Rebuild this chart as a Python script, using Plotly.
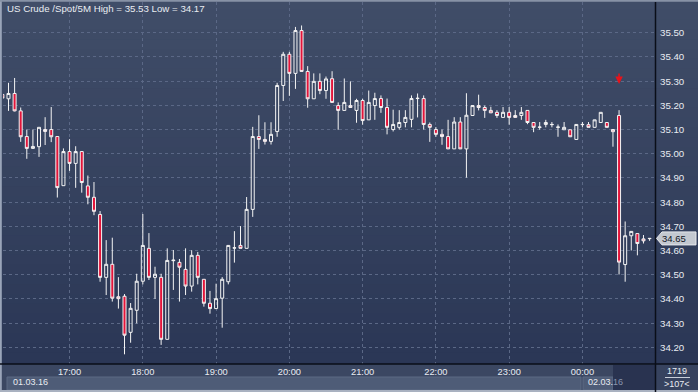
import plotly.graph_objects as go
import pandas as pd

# ---------------- data ----------------
start_time = "2016-03-01 16:05"
bar_minutes = 5
opens = [35.245, 35.227, 35.249, 35.177, 35.071, 35.022, 35.029, 35.100, 35.100, 35.071, 34.868,
         35.009, 34.960, 35.009, 34.867, 34.820, 34.749, 34.489, 34.543, 34.409, 34.411, 34.262, 34.353,
         34.473, 34.609, 34.489, 34.489, 34.233, 34.558, 34.551, 34.522, 34.453, 34.580, 34.481, 34.382,
         34.360, 34.403, 34.471, 34.610, 34.621, 34.609, 34.770, 35.071, 35.059, 35.051, 35.092, 35.282,
         35.411, 35.332, 35.509, 35.340, 35.227, 35.299, 35.261, 35.310, 35.199, 35.179, 35.199, 35.179,
         35.220, 35.140, 35.199, 35.228, 35.191, 35.100, 35.109, 35.129, 35.142, 35.228, 35.228, 35.121,
         35.100, 35.080, 35.071, 35.020, 35.131, 35.020, 35.158, 35.199, 35.191, 35.179, 35.171, 35.150,
         35.171, 35.158, 35.158, 35.179, 35.129, 35.109, 35.121, 35.120, 35.109, 35.099, 35.099, 35.059,
         35.120, 35.120, 35.109, 35.129, 35.129, 35.100, 35.158, 34.542, 34.661, 34.670, 34.648, 34.649]
highs = [35.250, 35.293, 35.313, 35.191, 35.100, 35.100, 35.109, 35.151, 35.193, 35.071, 35.022,
         35.060, 35.031, 35.009, 34.910, 34.883, 34.763, 34.643, 34.653, 34.490, 34.420, 34.383, 34.504,
         34.751, 34.672, 34.533, 34.504, 34.609, 34.602, 34.565, 34.609, 34.601, 34.594, 34.481, 34.433,
         34.463, 34.490, 34.621, 34.680, 34.701, 34.821, 35.111, 35.159, 35.130, 35.130, 35.293, 35.421,
         35.421, 35.524, 35.530, 35.362, 35.332, 35.332, 35.319, 35.341, 35.212, 35.311, 35.299, 35.227,
         35.227, 35.261, 35.252, 35.241, 35.228, 35.182, 35.180, 35.180, 35.241, 35.249, 35.241, 35.129,
         35.110, 35.100, 35.140, 35.151, 35.151, 35.250, 35.200, 35.244, 35.199, 35.194, 35.180, 35.193,
         35.193, 35.180, 35.193, 35.179, 35.129, 35.131, 35.140, 35.131, 35.121, 35.131, 35.099, 35.121,
         35.131, 35.131, 35.140, 35.171, 35.129, 35.100, 35.180, 34.720, 34.679, 34.670, 34.664, 34.650]
lows = [35.225, 35.177, 35.175, 35.049, 34.979, 35.020, 34.987, 35.036, 35.048, 34.819, 34.868,
        34.929, 34.859, 34.839, 34.791, 34.746, 34.471, 34.416, 34.389, 34.360, 34.171, 34.219, 34.299,
        34.460, 34.478, 34.400, 34.210, 34.233, 34.437, 34.389, 34.416, 34.430, 34.460, 34.368, 34.339,
        34.360, 34.281, 34.460, 34.550, 34.609, 34.609, 34.739, 35.020, 35.038, 35.038, 35.070, 35.218,
        35.239, 35.268, 35.340, 35.190, 35.227, 35.246, 35.227, 35.212, 35.099, 35.179, 35.191, 35.128,
        35.120, 35.140, 35.140, 35.169, 35.080, 35.092, 35.100, 35.109, 35.109, 35.150, 35.100, 35.049,
        35.070, 35.037, 35.020, 35.020, 35.020, 34.901, 35.158, 35.179, 35.148, 35.169, 35.148, 35.150,
        35.120, 35.150, 35.140, 35.122, 35.089, 35.099, 35.109, 35.109, 35.070, 35.099, 35.070, 35.059,
        35.109, 35.109, 35.109, 35.129, 35.109, 35.029, 34.501, 34.471, 34.600, 34.580, 34.629, 34.640]
closes = [35.230, 35.249, 35.177, 35.070, 35.022, 35.030, 35.109, 35.092, 35.070, 34.860, 35.009,
          34.960, 35.009, 34.881, 34.820, 34.762, 34.489, 34.543, 34.403, 34.401, 34.250, 34.361, 34.473,
          34.621, 34.489, 34.502, 34.233, 34.559, 34.560, 34.531, 34.453, 34.580, 34.489, 34.382, 34.360,
          34.401, 34.481, 34.621, 34.611, 34.609, 34.770, 35.071, 35.059, 35.051, 35.080, 35.282, 35.411,
          35.332, 35.509, 35.340, 35.227, 35.299, 35.261, 35.309, 35.212, 35.179, 35.212, 35.191, 35.220,
          35.137, 35.212, 35.228, 35.191, 35.109, 35.121, 35.129, 35.150, 35.228, 35.229, 35.121, 35.109,
          35.080, 35.071, 35.020, 35.131, 35.020, 35.159, 35.199, 35.191, 35.179, 35.169, 35.158, 35.171,
          35.150, 35.150, 35.171, 35.129, 35.109, 35.110, 35.129, 35.121, 35.110, 35.109, 35.070, 35.121,
          35.121, 35.109, 35.140, 35.171, 35.109, 35.091, 34.552, 34.661, 34.679, 34.629, 34.640, 34.650]

title_text = "US Crude /Spot/5M High = 35.53 Low = 34.17"
last_price = 34.65
signal_time = "2016-03-02 00:30"
signal_price = 35.288
date_labels = ["01.03.16", "02.03.16"]
bar_count_labels = ["1719", ">107<"]
hour_ticks = ["2016-03-01 17:00", "2016-03-01 18:00", "2016-03-01 19:00", "2016-03-01 20:00",
              "2016-03-01 21:00", "2016-03-01 22:00", "2016-03-01 23:00", "2016-03-02 00:00"]
hour_labels = ["17:00", "18:00", "19:00", "20:00", "21:00", "22:00", "23:00", "00:00"]
price_ticks = [34.2, 34.3, 34.4, 34.5, 34.6, 34.7, 34.8, 34.9, 35.0, 35.1, 35.2, 35.3, 35.4, 35.5]

times = pd.date_range(start_time, periods=len(opens), freq=f"{bar_minutes}min")

# ---------------- geometry helpers (styling only) ----------------
W, H = 698, 392
ML, MR, MT, MB = 3, 42, 2, 28
PW, PH = W - ML - MR, H - MT - MB
Y_RANGE = [34.131, 35.627]


def px(xp):
    return (xp - ML) / PW


def py(yp):
    return (H - MB - yp) / PH


FONT = "Liberation Sans, Arial, sans-serif"
TXT = "#e9ecf2"

fig = go.Figure()
fig.add_trace(go.Candlestick(
    x=times, open=opens, high=highs, low=lows, close=closes,
    increasing=dict(line=dict(color="#f4f4f4", width=1), fillcolor="rgba(0,0,0,0)"),
    decreasing=dict(line=dict(color="#f4f4f4", width=1), fillcolor="#e3143a"),
    whiskerwidth=0, hoverinfo="skip", showlegend=False,
))

shapes = []
# vertical gradient background
n = 40
top_c = (64, 77, 104)
bot_c = (41, 53, 84)
for i in range(n):
    t = i / (n - 1)
    c = tuple(round(top_c[k] + (bot_c[k] - top_c[k]) * t) for k in range(3))
    y0 = H * i / n
    y1 = H * (i + 1) / n + 0.6
    shapes.append(dict(type="rect", xref="paper", yref="paper", layer="below",
                       x0=px(-2), x1=px(W + 2), y0=py(y1), y1=py(y0),
                       line=dict(width=0), fillcolor=f"rgb{c}"))
# bottom time band
shapes.append(dict(type="rect", xref="paper", yref="paper", layer="below",
                   x0=px(-2), x1=px(656), y0=py(H + 2), y1=py(364),
                   line=dict(width=0), fillcolor="rgb(59,71,98)"))
# date strips
shapes.append(dict(type="rect", xref="paper", yref="paper", layer="below",
                   x0=px(7), x1=px(581), y0=py(390), y1=py(377),
                   line=dict(width=1, color="rgb(92,106,132)"), fillcolor="rgb(78,92,119)"))
shapes.append(dict(type="rect", xref="paper", yref="paper", layer="below",
                   x0=px(583), x1=px(613), y0=py(390), y1=py(377),
                   line=dict(width=1, color="rgb(92,106,132)"), fillcolor="rgb(78,92,119)"))
# dark scroll box
shapes.append(dict(type="rect", xref="paper", yref="paper", layer="below",
                   x0=px(613), x1=px(655), y0=py(391), y1=py(365),
                   line=dict(width=0), fillcolor="rgb(41,51,80)"))
# right bottom cell
shapes.append(dict(type="rect", xref="paper", yref="paper", layer="below",
                   x0=px(656), x1=px(W + 2), y0=py(H + 2), y1=py(364),
                   line=dict(width=0), fillcolor="rgb(55,67,95)"))
shapes.append(dict(type="line", xref="paper", yref="paper", layer="above",
                   x0=px(665), x1=px(690), y0=py(377.5), y1=py(377.5),
                   line=dict(width=1, color="#c9cfda")))
# frame lines
shapes.append(dict(type="line", xref="paper", yref="paper", layer="above",
                   x0=px(0.8), x1=px(0.8), y0=py(H), y1=py(0),
                   line=dict(width=2, color="#9aa5b9")))
shapes.append(dict(type="line", xref="paper", yref="paper", layer="above",
                   x0=px(0), x1=px(W), y0=py(0.8), y1=py(0.8),
                   line=dict(width=2, color="#8792a6")))
shapes.append(dict(type="line", xref="paper", yref="paper", layer="above",
                   x0=px(0), x1=px(W), y0=py(391), y1=py(391),
                   line=dict(width=2, color="#a9b1c0")))
# axis separators
shapes.append(dict(type="line", xref="paper", yref="paper", layer="above",
                   x0=px(655.5), x1=px(655.5), y0=py(H), y1=py(2),
                   line=dict(width=1.5, color="#0a0e18")))
shapes.append(dict(type="line", xref="paper", yref="paper", layer="above",
                   x0=px(0), x1=px(W), y0=py(364), y1=py(364),
                   line=dict(width=1.5, color="#0a0e18")))
# last price tag (arrow-shaped box)
tag_h = 6.5 / (PH / (Y_RANGE[1] - Y_RANGE[0]))
x_tip, x_l, x_r = px(656.5), px(662), px(696)
shapes.append(dict(type="path", xref="paper", yref="y", layer="above",
                   path=f"M {x_tip} {last_price} L {x_l} {last_price + tag_h} L {x_r} {last_price + tag_h} "
                        f"L {x_r} {last_price - tag_h} L {x_l} {last_price - tag_h} Z",
                   line=dict(width=1, color="#e6e8ec"), fillcolor="#c3c8d0"))

annotations = [
    dict(text=title_text, xref="paper", yref="paper", x=px(5), y=py(8.5),
         xanchor="left", yanchor="middle", showarrow=False,
         font=dict(family=FONT, size=9.7, color=TXT)),
    dict(text=f"{last_price:.2f}", xref="paper", yref="y", x=px(660), y=last_price,
         xanchor="left", yanchor="middle", showarrow=False,
         font=dict(family=FONT, size=9.5, color="#10141f")),
    dict(text=date_labels[0], xref="paper", yref="paper", x=px(11), y=py(382),
         xanchor="left", yanchor="middle", showarrow=False,
         font=dict(family=FONT, size=9, color=TXT)),
    dict(text=date_labels[1][:-2] + "<span style='color:#8a96ad'>" + date_labels[1][-2:] + "</span>",
         xref="paper", yref="paper", x=px(586), y=py(382),
         xanchor="left", yanchor="middle", showarrow=False,
         font=dict(family=FONT, size=9, color=TXT)),
    dict(text=bar_count_labels[0], xref="paper", yref="paper", x=px(677), y=py(371),
         xanchor="center", yanchor="middle", showarrow=False,
         font=dict(family=FONT, size=9, color=TXT)),
    dict(text=bar_count_labels[1], xref="paper", yref="paper", x=px(677), y=py(384),
         xanchor="center", yanchor="middle", showarrow=False,
         font=dict(family=FONT, size=9, color=TXT)),
    # red signal arrow above the big drop bar
    dict(text="", x=signal_time, y=signal_price, xref="x", yref="y",
         showarrow=True, ax=0, ay=-12, arrowhead=2, arrowsize=1.0, arrowwidth=1.5,
         arrowcolor="#e8131b", standoff=0, startstandoff=0),
]

fig.update_layout(
    width=W, height=H,
    margin=dict(l=ML, r=MR, t=MT, b=MB, pad=0),
    paper_bgcolor="rgb(52,64,93)",
    plot_bgcolor="rgba(0,0,0,0)",
    shapes=shapes, annotations=annotations,
    showlegend=False, hovermode=False,
    font=dict(family=FONT, size=9, color=TXT),
    xaxis=dict(
        type="date",
        range=["2016-03-01 16:05:30", "2016-03-02 01:00:15"],
        rangeslider=dict(visible=False),
        tickmode="array", tickvals=hour_ticks, ticktext=hour_labels,
        showgrid=True, gridcolor="#5b6886", griddash="3px,3px", gridwidth=1,
        ticks="", showline=False, zeroline=False,
        tickfont=dict(family=FONT, size=9.3, color=TXT),
        ticklabelstandoff=1,
    ),
    yaxis=dict(
        side="right", range=Y_RANGE,
        tickmode="array", tickvals=price_ticks, ticktext=[f"{v:.2f}" for v in price_ticks],
        showgrid=True, gridcolor="#5b6886", griddash="3px,3px", gridwidth=1,
        ticks="", showline=False, zeroline=False,
        tickfont=dict(family=FONT, size=9.7, color=TXT),
        ticklabelstandoff=3,
    ),
)

fig.write_html("out.html", config={"displayModeBar": False},
               post_script="document.body.style.margin='0';document.body.style.overflow='hidden';")
